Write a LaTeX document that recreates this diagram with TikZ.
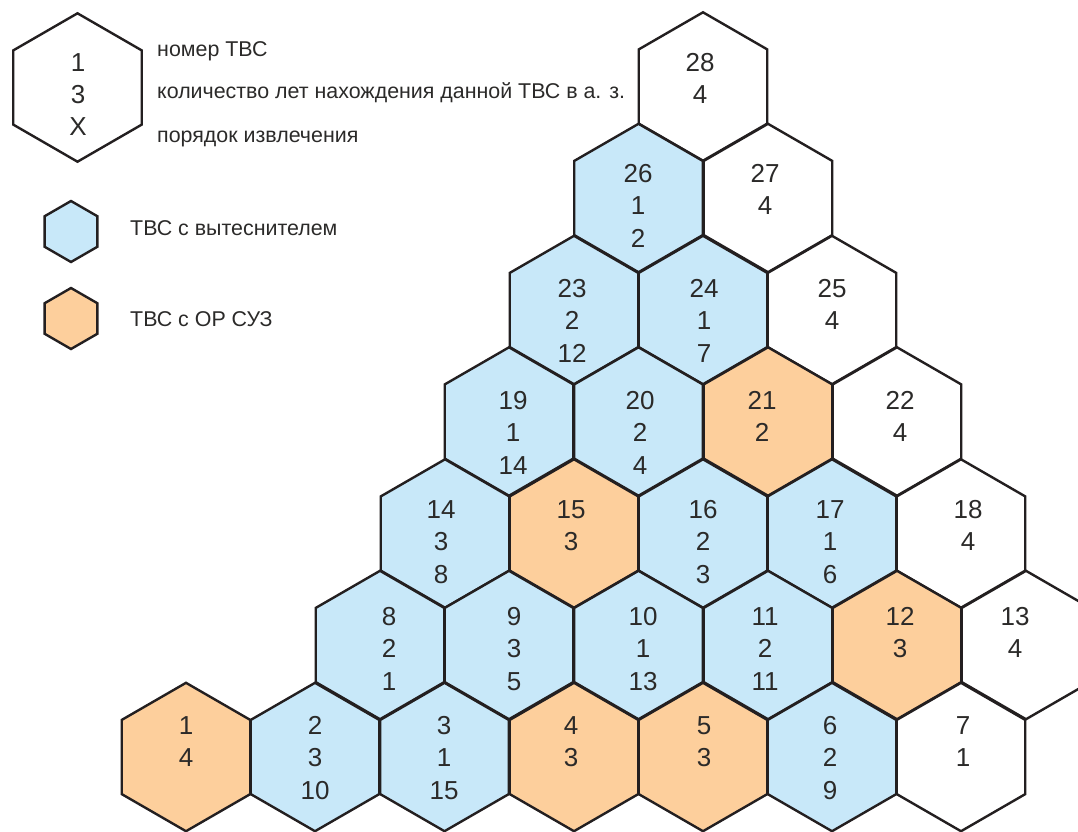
\documentclass[tikz,border=0pt]{standalone}
\usepackage{fontspec}
\setmainfont{Liberation Sans}
\definecolor{cellblue}{HTML}{C8E8F9}
\definecolor{cellorange}{HTML}{FDCF9C}
\definecolor{ink}{HTML}{231F20}
\definecolor{txt}{HTML}{2B2A29}
\tikzset{
  hexline/.style={draw=ink,line width=2.4pt,line join=miter},
  numtext/.style={font=\fontsize{26}{30}\selectfont,text=txt,inner sep=0pt,anchor=base},
  legtext/.style={font=\fontsize{21.4}{26}\selectfont,text=txt,inner sep=0pt,anchor=base west},
}
% #1 name, #2 cx, #3 cy, #4 fill, #5 text x, #6 first-line centre y, #7 lines
\newcommand{\hexpath}[4]{%
  \filldraw[hexline,fill=#4] (#1,#2-#3) -- (#1+0.866*#3,#2-0.5*#3) -- (#1+0.866*#3,#2+0.5*#3)
    -- (#1,#2+#3) -- (#1-0.866*#3,#2+0.5*#3) -- (#1-0.866*#3,#2-0.5*#3) -- cycle;}
\newcommand{\cell}[7]{%
  \hexpath{#2}{#3}{74.2}{#4}%
  \foreach \ln [count=\li] in {#7} {%
    \node[numtext] (t#1-\li) at (#5,{#6+9.3+(\li-1)*32.4}) {\ln};
  }}
\begin{document}
\begin{tikzpicture}[x=1pt,y=-1pt]
\useasboundingbox (0,0) rectangle (1078,831);
\clip (0,0) rectangle (1078,831);
% legend
\hexpath{77.5}{87.5}{74.2}{white}
\node[numtext] (l1) at (78,71.3) {1};
\node[numtext] (l2) at (78,103.5) {3};
\node[numtext] (l3) at (78,135.5) {X};
\node[legtext] (la) at (157,56) {номер ТВС};
\node[legtext] (lb) at (157,98) {количество лет нахождения данной ТВС в а. з.};
\node[legtext] (lc) at (157,142) {порядок извлечения};
\hexpath{71}{231.5}{30.5}{cellblue}
\node[legtext] (ld) at (130,235) {ТВС с вытеснителем};
\hexpath{71}{318.5}{30.5}{cellorange}
\node[legtext] (le) at (130,326) {ТВС с ОР СУЗ};
% row 7
\cell{28}{703}{86.5}{white}{700}{62}{28,4}
% row 6
\cell{26}{638.5}{198}{cellblue}{638}{173}{26,1,2}
\cell{27}{768}{198}{white}{765}{173}{27,4}
% row 5
\cell{23}{574}{310}{cellblue}{572}{288}{23,2,12}
\cell{24}{703}{310}{cellblue}{704}{288}{24,1,7}
\cell{25}{832}{310}{white}{832}{288}{25,4}
% row 4
\cell{19}{509}{421.5}{cellblue}{513}{400}{19,1,14}
\cell{20}{638.5}{421.5}{cellblue}{640}{400}{20,2,4}
\cell{22}{897}{421.5}{white}{900}{400}{22,4}
\cell{21}{768}{421.5}{cellorange}{762}{400}{21,2}
% row 3
\cell{14}{445}{533.5}{cellblue}{441}{509}{14,3,8}
\cell{16}{703}{533.5}{cellblue}{703}{509}{16,2,3}
\cell{17}{832}{533.5}{cellblue}{830}{509}{17,1,6}
\cell{18}{961}{533.5}{white}{968}{509}{18,4}
\cell{15}{574}{533.5}{cellorange}{571}{509}{15,3}
% row 2
\cell{8}{380}{645}{cellblue}{389}{616}{8,2,1}
\cell{9}{509}{645}{cellblue}{514}{616}{9,3,5}
\cell{10}{638.5}{645}{cellblue}{643}{616}{10,1,13}
\cell{11}{768}{645}{cellblue}{765}{616}{11,2,11}
\cell{13}{1026}{645}{white}{1015}{616}{13,4}
\cell{12}{897}{645}{cellorange}{900}{616}{12,3}
% row 1
\cell{2}{315}{757}{cellblue}{315}{725}{2,3,10}
\cell{3}{444.5}{757}{cellblue}{444}{725}{3,1,15}
\cell{6}{832}{757}{cellblue}{830}{725}{6,2,9}
\cell{7}{961}{757}{white}{963}{725}{7,1}
\cell{1}{186}{757}{cellorange}{186}{725}{1,4}
\cell{4}{574}{757}{cellorange}{571}{725}{4,3}
\cell{5}{703}{757}{cellorange}{704}{725}{5,3}
\end{tikzpicture}
\end{document}
